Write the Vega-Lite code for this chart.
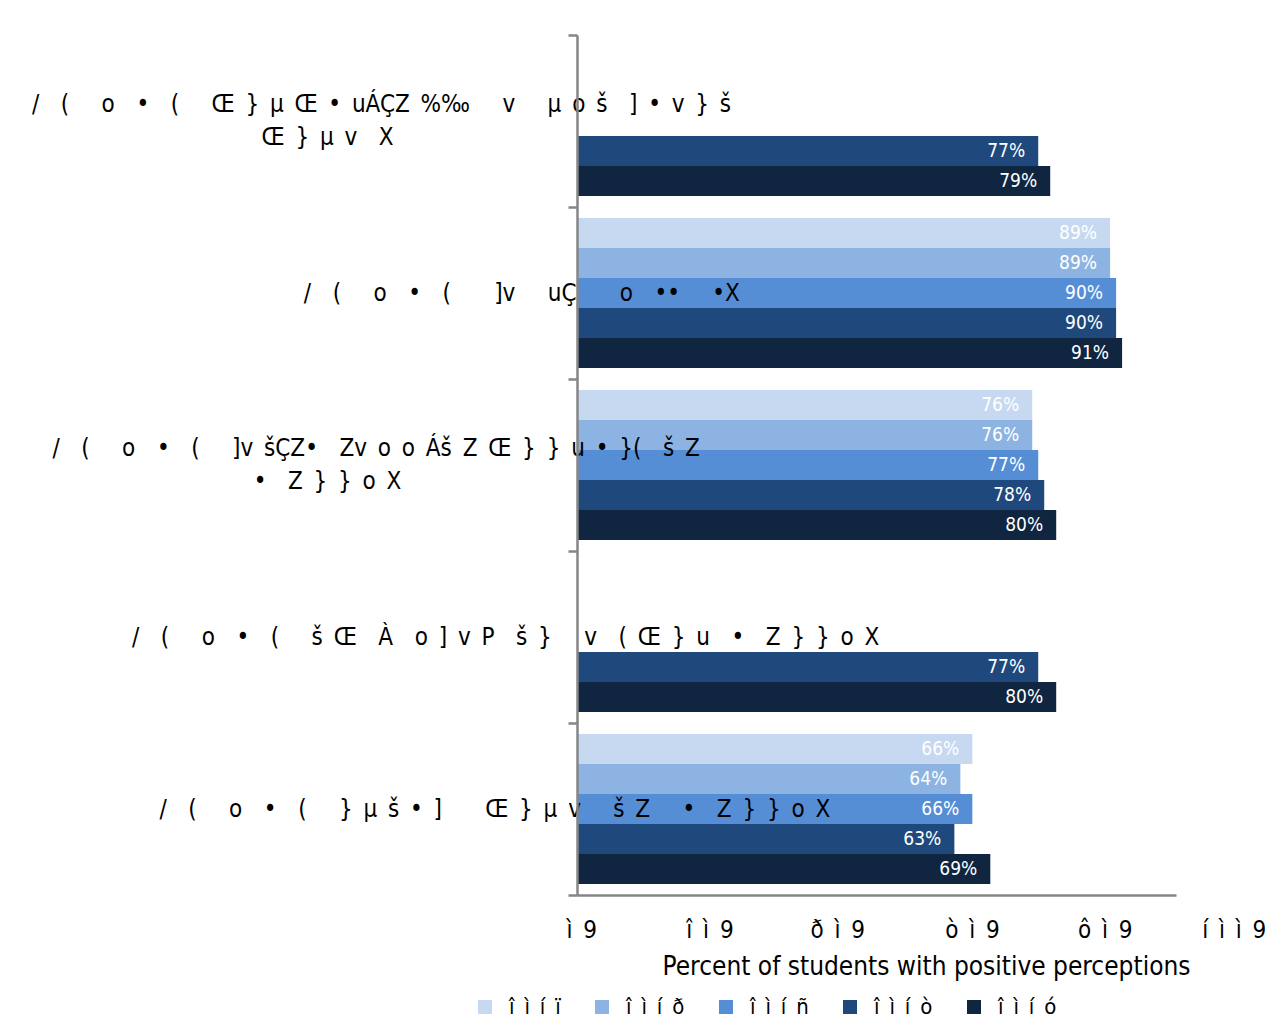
{
  "$schema": "https://vega.github.io/schema/vega-lite/v6.json",
  "width": 599,
  "height": 860,
  "autosize": {"type": "none"},
  "padding": {"left": 577, "top": 35, "right": 92, "bottom": 135},
  "background": "white",
  "config": {"view": {"stroke": null}, "font": "DejaVu Sans Condensed, DejaVu Sans, sans-serif"},
  "datasets": {
    "rows": [
      {"item": "/\u2002\u2002(\u2002\u2002\u2002o\u2002\u2002•\u2002\u2002(\u2002\u2002\u2002Œ\u2002}\u2002µ\u2002Œ\u2002•\u2002uÁÇZ\u2002%‰\u2002\u2002\u2002v\u2002\u2002\u2002µ\u2002o\u2002š\u2002\u2002]\u2002•\u2002v\u2002}\u2002š|Œ\u2002}\u2002µ\u2002v\u2002\u2002X", "year": "2016", "pct": 0.77},
      {"item": "/\u2002\u2002(\u2002\u2002\u2002o\u2002\u2002•\u2002\u2002(\u2002\u2002\u2002Œ\u2002}\u2002µ\u2002Œ\u2002•\u2002uÁÇZ\u2002%‰\u2002\u2002\u2002v\u2002\u2002\u2002µ\u2002o\u2002š\u2002\u2002]\u2002•\u2002v\u2002}\u2002š|Œ\u2002}\u2002µ\u2002v\u2002\u2002X", "year": "2017", "pct": 0.79},
      {"item": "/\u2002\u2002(\u2002\u2002\u2002o\u2002\u2002•\u2002\u2002(\u2002\u2002\u2002\u2002]v\u2002\u2002\u2002uÇ\u2002\u2002\u2002\u2002o\u2002\u2002••\u2002\u2002\u2002•X", "year": "2013", "pct": 0.89},
      {"item": "/\u2002\u2002(\u2002\u2002\u2002o\u2002\u2002•\u2002\u2002(\u2002\u2002\u2002\u2002]v\u2002\u2002\u2002uÇ\u2002\u2002\u2002\u2002o\u2002\u2002••\u2002\u2002\u2002•X", "year": "2014", "pct": 0.89},
      {"item": "/\u2002\u2002(\u2002\u2002\u2002o\u2002\u2002•\u2002\u2002(\u2002\u2002\u2002\u2002]v\u2002\u2002\u2002uÇ\u2002\u2002\u2002\u2002o\u2002\u2002••\u2002\u2002\u2002•X", "year": "2015", "pct": 0.90},
      {"item": "/\u2002\u2002(\u2002\u2002\u2002o\u2002\u2002•\u2002\u2002(\u2002\u2002\u2002\u2002]v\u2002\u2002\u2002uÇ\u2002\u2002\u2002\u2002o\u2002\u2002••\u2002\u2002\u2002•X", "year": "2016", "pct": 0.90},
      {"item": "/\u2002\u2002(\u2002\u2002\u2002o\u2002\u2002•\u2002\u2002(\u2002\u2002\u2002\u2002]v\u2002\u2002\u2002uÇ\u2002\u2002\u2002\u2002o\u2002\u2002••\u2002\u2002\u2002•X", "year": "2017", "pct": 0.91},
      {"item": "/\u2002\u2002(\u2002\u2002\u2002o\u2002\u2002•\u2002\u2002(\u2002\u2002\u2002]v\u2002šÇZ•\u2002\u2002Zv\u2002o\u2002o\u2002Áš\u2002Z\u2002Œ\u2002}\u2002}\u2002u\u2002•\u2002}(\u2002\u2002š\u2002Z|•\u2002\u2002Z\u2002}\u2002}\u2002o\u2002X", "year": "2013", "pct": 0.76},
      {"item": "/\u2002\u2002(\u2002\u2002\u2002o\u2002\u2002•\u2002\u2002(\u2002\u2002\u2002]v\u2002šÇZ•\u2002\u2002Zv\u2002o\u2002o\u2002Áš\u2002Z\u2002Œ\u2002}\u2002}\u2002u\u2002•\u2002}(\u2002\u2002š\u2002Z|•\u2002\u2002Z\u2002}\u2002}\u2002o\u2002X", "year": "2014", "pct": 0.76},
      {"item": "/\u2002\u2002(\u2002\u2002\u2002o\u2002\u2002•\u2002\u2002(\u2002\u2002\u2002]v\u2002šÇZ•\u2002\u2002Zv\u2002o\u2002o\u2002Áš\u2002Z\u2002Œ\u2002}\u2002}\u2002u\u2002•\u2002}(\u2002\u2002š\u2002Z|•\u2002\u2002Z\u2002}\u2002}\u2002o\u2002X", "year": "2015", "pct": 0.77},
      {"item": "/\u2002\u2002(\u2002\u2002\u2002o\u2002\u2002•\u2002\u2002(\u2002\u2002\u2002]v\u2002šÇZ•\u2002\u2002Zv\u2002o\u2002o\u2002Áš\u2002Z\u2002Œ\u2002}\u2002}\u2002u\u2002•\u2002}(\u2002\u2002š\u2002Z|•\u2002\u2002Z\u2002}\u2002}\u2002o\u2002X", "year": "2016", "pct": 0.78},
      {"item": "/\u2002\u2002(\u2002\u2002\u2002o\u2002\u2002•\u2002\u2002(\u2002\u2002\u2002]v\u2002šÇZ•\u2002\u2002Zv\u2002o\u2002o\u2002Áš\u2002Z\u2002Œ\u2002}\u2002}\u2002u\u2002•\u2002}(\u2002\u2002š\u2002Z|•\u2002\u2002Z\u2002}\u2002}\u2002o\u2002X", "year": "2017", "pct": 0.80},
      {"item": "/\u2002\u2002(\u2002\u2002\u2002o\u2002\u2002•\u2002\u2002(\u2002\u2002\u2002š\u2002Œ\u2002\u2002À\u2002\u2002o\u2002]\u2002v\u2002P\u2002\u2002š\u2002}\u2002\u2002\u2002v\u2002\u2002(\u2002Œ\u2002}\u2002u\u2002\u2002•\u2002\u2002Z\u2002}\u2002}\u2002o\u2002X", "year": "2016", "pct": 0.77},
      {"item": "/\u2002\u2002(\u2002\u2002\u2002o\u2002\u2002•\u2002\u2002(\u2002\u2002\u2002š\u2002Œ\u2002\u2002À\u2002\u2002o\u2002]\u2002v\u2002P\u2002\u2002š\u2002}\u2002\u2002\u2002v\u2002\u2002(\u2002Œ\u2002}\u2002u\u2002\u2002•\u2002\u2002Z\u2002}\u2002}\u2002o\u2002X", "year": "2017", "pct": 0.80},
      {"item": "/\u2002\u2002(\u2002\u2002\u2002o\u2002\u2002•\u2002\u2002(\u2002\u2002\u2002}\u2002µ\u2002š\u2002•\u2002]\u2002\u2002\u2002\u2002Œ\u2002}\u2002µ\u2002v\u2002\u2002\u2002š\u2002Z\u2002\u2002\u2002•\u2002\u2002Z\u2002}\u2002}\u2002o\u2002X", "year": "2013", "pct": 0.66},
      {"item": "/\u2002\u2002(\u2002\u2002\u2002o\u2002\u2002•\u2002\u2002(\u2002\u2002\u2002}\u2002µ\u2002š\u2002•\u2002]\u2002\u2002\u2002\u2002Œ\u2002}\u2002µ\u2002v\u2002\u2002\u2002š\u2002Z\u2002\u2002\u2002•\u2002\u2002Z\u2002}\u2002}\u2002o\u2002X", "year": "2014", "pct": 0.64},
      {"item": "/\u2002\u2002(\u2002\u2002\u2002o\u2002\u2002•\u2002\u2002(\u2002\u2002\u2002}\u2002µ\u2002š\u2002•\u2002]\u2002\u2002\u2002\u2002Œ\u2002}\u2002µ\u2002v\u2002\u2002\u2002š\u2002Z\u2002\u2002\u2002•\u2002\u2002Z\u2002}\u2002}\u2002o\u2002X", "year": "2015", "pct": 0.66},
      {"item": "/\u2002\u2002(\u2002\u2002\u2002o\u2002\u2002•\u2002\u2002(\u2002\u2002\u2002}\u2002µ\u2002š\u2002•\u2002]\u2002\u2002\u2002\u2002Œ\u2002}\u2002µ\u2002v\u2002\u2002\u2002š\u2002Z\u2002\u2002\u2002•\u2002\u2002Z\u2002}\u2002}\u2002o\u2002X", "year": "2016", "pct": 0.63},
      {"item": "/\u2002\u2002(\u2002\u2002\u2002o\u2002\u2002•\u2002\u2002(\u2002\u2002\u2002}\u2002µ\u2002š\u2002•\u2002]\u2002\u2002\u2002\u2002Œ\u2002}\u2002µ\u2002v\u2002\u2002\u2002š\u2002Z\u2002\u2002\u2002•\u2002\u2002Z\u2002}\u2002}\u2002o\u2002X", "year": "2017", "pct": 0.69}
    ]
  },
  "data": {"name": "rows"},
  "encoding": {
    "y": {
      "field": "item",
      "type": "nominal",
      "sort": null,
      "scale": {"paddingInner": 0, "paddingOuter": 0},
      "axis": {
        "title": null,
        "tickBand": "extent",
        "tickSize": 9,
        "tickColor": "#868686",
        "tickWidth": 2.5,
        "domainColor": "#868686",
        "domainWidth": 2.5,
        "labelAlign": "center",
        "labelBaseline": "middle",
        "labelOffset": -16.5,
        "labelFontSize": 24,
        "labelColor": "black",
        "labelLimit": 3000,
        "labelLineHeight": 16.5,
        "labelOverlap": false,
        "labelPadding": 187,
        "labelExpr": "indexof(datum.label, '‰') >= 0 ? [split(datum.label, '|')[0], '\u2800', split(datum.label, '|')[1] + '\u2002\u2002\u2002\u2002\u2002\u2002\u2002\u2002\u2002\u2002\u2060'] : indexof(datum.label, 'Áš') >= 0 ? [split(datum.label, '|')[0] + '\u2002\u2060', '\u2800', split(datum.label, '|')[1] + '\u2002\u2002\u2002\u2002\u2002\u2002\u2002\u2002\u2002\u2002\u2060'] : indexof(datum.label, 'uÇ') >= 0 ? ['\u2800', '\u2060\u2002\u2002\u2002\u2002\u2002\u2002\u2002\u2002\u2002\u2002\u2002\u2002\u2002\u2002\u2002\u2002\u2002\u2002\u2002\u2002\u2002\u2002\u2002\u2002\u2002\u2002' + datum.label] : indexof(datum.label, 'À') >= 0 ? ['\u2800', '\u2060\u2002\u2002\u2002\u2002\u2002\u2002\u2002\u2002\u2002\u2002\u2002\u2002\u2002\u2002\u2002\u2002\u2002\u2002\u2002\u2002\u2002\u2002\u2002' + datum.label] : ['\u2800', '\u2060\u2002\u2002\u2002\u2002\u2002\u2002\u2002\u2002\u2002\u2002\u2002\u2002\u2002\u2002\u2002\u2002\u2002\u2002\u2002\u2002\u2002' + datum.label]",
        "zindex": 1
      }
    },
    "yOffset": {
      "field": "year",
      "type": "nominal",
      "scale": {"domain": ["2013", "2014", "2015", "2016", "2017"], "paddingInner": 0, "paddingOuter": 0.3667}
    },
    "x": {
      "field": "pct",
      "type": "quantitative",
      "scale": {"domain": [0, 1], "nice": false},
      "axis": {
        "values": [0, 0.2, 0.4, 0.6, 0.8, 1],
        "ticks": false,
        "grid": false,
        "domainColor": "#868686",
        "domainWidth": 2.5,
        "labelFontSize": 24,
        "labelColor": "black",
        "labelAlign": "left",
        "labelPadding": 23,
        "labelOffset": -11,
        "labelFlush": false,
        "labelOverlap": false,
        "labelExpr": "datum.value < 0.1 ? 'ì\u20029' : datum.value < 0.3 ? 'î\u2002ì\u20029' : datum.value < 0.5 ? '\u2060\u2009ð\u2002ì\u20029' : datum.value < 0.7 ? '\u2060\u2002\u2009\u2009ò\u2002ì\u20029' : datum.value < 0.9 ? '\u2060\u2002\u2002\u2002ô\u2002ì\u20029' : '\u2060\u2002\u2002\u2002\u2009í\u2002ì\u2002ì\u20029'",
        "title": "Percent of students with positive perceptions",
        "titleFontSize": 26,
        "titleFontWeight": "normal",
        "titleColor": "black",
        "titleX": 349,
        "titleY": 79,
        "titleAlign": "center",
        "titleBaseline": "alphabetic"
      }
    }
  },
  "layer": [
    {
      "mark": {"type": "bar"},
      "encoding": {
        "color": {
          "field": "year",
          "type": "nominal",
          "scale": {"domain": ["2013", "2014", "2015", "2016", "2017"], "range": ["#C6D9F1", "#8DB3E2", "#558ED5", "#1F497D", "#10253F"]},
          "legend": {
            "orient": "none",
            "legendX": -103,
            "legendY": 961,
            "direction": "horizontal",
            "title": null,
            "symbolType": "square",
            "symbolSize": 196,
            "symbolStrokeWidth": 0,
            "labelFontSize": 22,
            "labelColor": "black",
            "labelOffset": 13,
            "columnPadding": 30,
            "labelExpr": "datum.label == '2013' ? 'î\u2002ì\u2002í\u2002ï' : datum.label == '2014' ? 'î\u2002ì\u2002í\u2002ð' : datum.label == '2015' ? 'î\u2002ì\u2002í\u2002ñ' : datum.label == '2016' ? 'î\u2002ì\u2002í\u2002ò' : 'î\u2002ì\u2002í\u2002ó'"
          }
        }
      }
    },
    {
      "mark": {"type": "text", "align": "right", "baseline": "middle", "dx": -13, "color": "white", "fontSize": 19},
      "encoding": {
        "text": {"field": "pct", "type": "quantitative", "format": ".0%"}
      }
    }
  ]
}
